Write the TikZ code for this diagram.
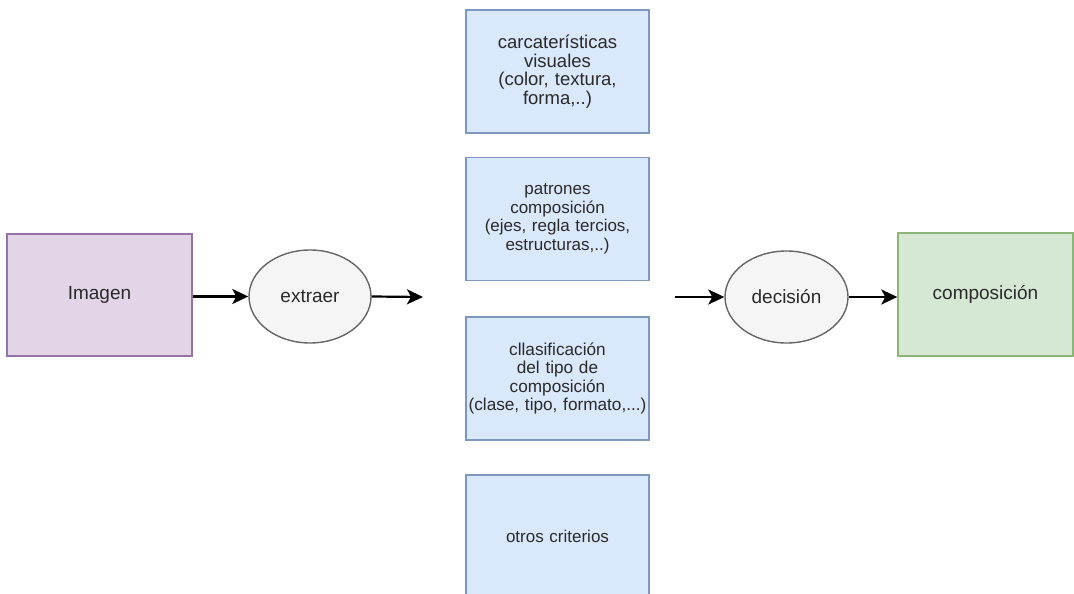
\documentclass[tikz,border=0pt]{standalone}
\usepackage{fontspec}
\setmainfont{Liberation Sans}
\usetikzlibrary{arrows.meta,shapes.geometric}
\definecolor{purpfill}{HTML}{E1D5E7}
\definecolor{purpline}{HTML}{9673A6}
\definecolor{bluefill}{HTML}{DAE8FC}
\definecolor{blueline}{HTML}{7D97BF}
\definecolor{greenfill}{HTML}{D5E8D4}
\definecolor{greenline}{HTML}{8DB57A}
\definecolor{greyfill}{HTML}{F5F5F5}
\definecolor{greyline}{HTML}{666666}
\definecolor{txt}{HTML}{2A2A2A}
\tikzset{
  block/.style={draw, line width=1.4pt, rectangle, inner sep=2pt, text=txt,
    font=\fontsize{19}{23}\selectfont},
  crit/.style={draw=blueline, fill=bluefill, line width=1.4pt, rectangle,
    minimum width=183pt, minimum height=123pt, inner sep=0pt, text width=181pt,
    align=center, text=txt, font=\fontsize{17}{18.5}\selectfont},
  oval/.style={draw=greyline, fill=greyfill, line width=1.4pt, ellipse,
    inner sep=0pt, text=txt, font=\fontsize{19}{23}\selectfont},
  flow/.style={line width=2.2pt, -{Stealth[length=16pt,width=15pt,inset=4pt]}}
}
\begin{document}
\begin{tikzpicture}[x=1pt,y=-1pt]
  \useasboundingbox (0,0) rectangle (1074,594);
  \clip (0,0) rectangle (1074,594);

  % input and output
  \node[block, draw=purpline, fill=purpfill, minimum width=185pt, minimum height=122pt]
    (img) at (99.5,295) {Imagen};
  \node[block, draw=greenline, fill=greenfill, minimum width=175pt, minimum height=123pt]
    (comp) at (985.5,294.5) {composición};

  % processing steps
  \node[oval, minimum width=122pt, minimum height=93pt] (ext) at (310,296.5) {extraer};
  \node[oval, minimum width=123pt, minimum height=92pt] (dec) at (786.5,297) {decisión};

  % criteria column
  \node[crit, font=\fontsize{18.5}{18.5}\selectfont] (c1) at (557.5,71.5)
    {carcaterísticas\\visuales\\(color, textura,\\forma,..)};
  \node[crit] (c2) at (557.5,219) {patrones\\composición\\(ejes, regla tercios,\\estructuras,..)};
  \node[crit, font=\fontsize{17.2}{18.5}\selectfont] (c3) at (557.5,378.5)
    {cllasificación\\del tipo de\\composición\\(clase, tipo, formato,...)};
  \node[crit] (c4) at (557.5,536.5) {otros criterios};

  % loose arrow ends around the criteria column
  \coordinate (extout) at (423,297);
  \coordinate (decin) at (675,297);

  % connectors
  \draw[flow] (img.east |- ext.west) -- (ext.west);
  \draw[flow] (ext.east) -- (extout);
  \draw[flow] (decin) -- (dec.west);
  \draw[flow] (dec.east) -- (comp.west |- dec.east);
\end{tikzpicture}
\end{document}
